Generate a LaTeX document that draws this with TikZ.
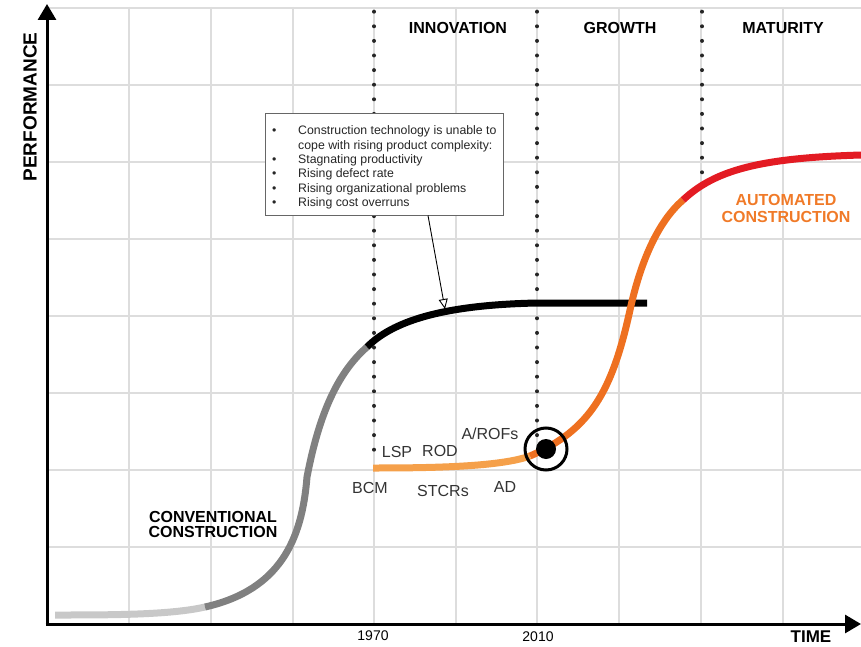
\documentclass[tikz,border=0pt]{standalone}
\usepackage{fontspec}
\setmainfont{Liberation Sans}
\usetikzlibrary{arrows.meta}
\definecolor{gridc}{HTML}{DDDDDD}
\definecolor{lgray}{HTML}{C8C8C8}
\definecolor{dgray}{HTML}{808080}
\definecolor{lorange}{HTML}{F5A04A}
\definecolor{dorange}{HTML}{EE7020}
\definecolor{redc}{HTML}{E31B23}
\definecolor{txtorange}{HTML}{F07A28}
\tikzset{
  gridline/.style={draw=gridc, line width=1.3pt},
  dotline/.style={line width=4pt, line cap=round, dash pattern=on 0pt off 14.6pt, black!85},
  axis/.style={line width=3pt, -{Triangle[length=16pt,width=18pt]}},
  curve/.style={line width=7pt, line cap=butt},
  heading/.style={font=\fontsize{16}{18}\selectfont\bfseries},
  lbl/.style={font=\fontsize{16}{18}\selectfont, text=black!80},
  year/.style={font=\fontsize{14}{16}\selectfont},
  notebox/.style={draw=black!60, fill=white, line width=1pt, minimum width=238pt, minimum height=101pt, inner sep=0pt},
  pointer/.style={line width=0.9pt, -{Triangle[open,length=10pt,width=9pt]}},
}
\begin{document}
\begin{tikzpicture}[x=1pt,y=-1pt]
\useasboundingbox (0,0) rectangle (861,647);
% grid
\foreach \gx in {129,211,293,374,456,537,619,701,783} \draw[gridline] (\gx,7) -- (\gx,624);
\foreach \gy in {8,85,162,239,316,393,470,547} \draw[gridline] (47,\gy) -- (861,\gy);
% dotted phase lines
\draw[dotline] (374,11.7) -- (374,452);
\draw[dotline] (537,11.7) -- (537,437);
\draw[dotline] (702,11.7) -- (702,176);
% axes
\coordinate (origin) at (47,624);
\coordinate (ytip) at (47,4);
\coordinate (xtip) at (861,624);
\draw[axis] (origin) -- (ytip);
\draw[axis] ([xshift=-1.5pt]origin) -- (xtip);
% curves
\draw[curve, lgray] (55,615) .. controls (110,615) and (170,615) .. (205,607);
\draw[curve, dgray] (205,607) .. controls (280,590) and (302,540) .. (307,477)
                              .. controls (318,420) and (335,375) .. (367,347);
\draw[curve, black] (367,347) .. controls (392,322) and (440,305) .. (537,303) -- (647,303);
\draw[curve, lorange] (373,468) .. controls (430,468) and (500,467) .. (530,456);
\draw[curve, dorange] (530,456) .. controls (590,430) and (612,392) .. (630,310)
                               .. controls (642,255) and (661,219) .. (683,200);
\draw[curve, redc] (683,200) .. controls (715,170) and (760,158) .. (861,155);
% marker
\node[circle, draw=black, line width=3pt, minimum size=42pt, inner sep=0pt] (ring) at (546,449) {};
\node[circle, fill=black, minimum size=20pt, inner sep=0pt] (dot) at (546,449) {};
% note
\node[notebox] (note) at (384,164.5) {};
\node[anchor=north west, inner sep=0pt, font=\fontsize{12.3}{14.4}\selectfont, text=black!85] (notetext) at (272,124.5) {%
\begin{tabular}{@{}p{26pt}@{}l@{}}
\textbullet & Construction technology is unable to\\
 & cope with rising product complexity:\\
\textbullet & Stagnating productivity\\
\textbullet & Rising defect rate\\
\textbullet & Rising organizational problems\\
\textbullet & Rising cost overruns
\end{tabular}};
\coordinate (ptip) at (445,309);
\draw[pointer] ([xshift=44pt]note.south) -- (ptip);
% texts
\node[heading, rotate=90, font=\fontsize{19}{20}\selectfont\bfseries] (perf) at (30,107) {PERFORMANCE};
\node[heading] (innov) at (458,28) {INNOVATION};
\node[heading] (growth) at (620,28) {GROWTH};
\node[heading] (mat) at (783,28) {MATURITY};
\node[heading, font=\fontsize{17}{18}\selectfont\bfseries] (time) at (811,637) {TIME};
\node[year] (y1970) at (373,636) {1970};
\node[year] (y2010) at (538,637) {2010};
\node[heading, align=center, text=txtorange, font=\fontsize{16}{17}\selectfont\bfseries] (auto) at (786,208.5) {AUTOMATED\\CONSTRUCTION};
\node[heading, align=center, font=\fontsize{16}{15.5}\selectfont\bfseries] (conv) at (213,524.5) {CONVENTIONAL\\CONSTRUCTION};
\node[lbl] (lsp) at (397,452) {LSP};
\node[lbl] (rod) at (440,451) {ROD};
\node[lbl] (arofs) at (490,434) {A/ROFs};
\node[lbl] (bcm) at (370,488) {BCM};
\node[lbl] (stcrs) at (443,491) {STCRs};
\node[lbl] (ad) at (505,487) {AD};
\end{tikzpicture}
\end{document}
